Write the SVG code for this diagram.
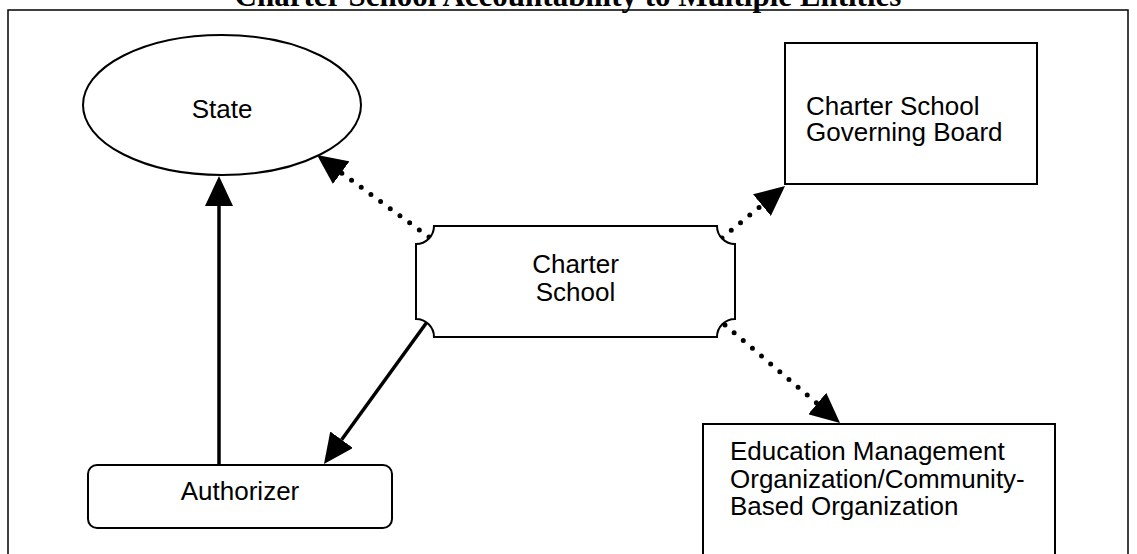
<svg xmlns="http://www.w3.org/2000/svg" width="1137" height="554" viewBox="0 0 1137 554">
  <style>
    .lbl { font-family: "Liberation Sans", Arial, sans-serif; font-size: 26px; fill: #000; }
    .title { font-family: "Liberation Serif", "Times New Roman", serif; font-size: 31px; font-weight: bold; fill: #000; }
    .shape { fill: #fff; stroke: #000; stroke-width: 2; }
    .dotted { fill: none; stroke: #000; stroke-width: 5; stroke-linecap: round; stroke-dasharray: 0 12; }
    .solid { fill: none; stroke: #000; stroke-width: 3.5; }
  </style>
  <defs>
    <marker id="ah" markerUnits="userSpaceOnUse" markerWidth="30" markerHeight="28" viewBox="0 0 30 28" refX="0" refY="14" orient="auto">
      <path d="M0,0 L30,14 L0,28 Z" fill="#000"/>
    </marker>
  </defs>
  <rect width="1137" height="554" fill="#fff"/>
  <text class="title" x="568" y="5.5" text-anchor="middle">Charter School Accountability to Multiple Entities</text>
  <g id="frame">
    <rect x="8" y="10" width="1120" height="560" fill="none" stroke="#000" stroke-width="1.5"/>
  </g>
  <g id="connectors">
    <line class="dotted" x1="429" y1="237" x2="341.2" y2="172.7" marker-end="url(#ah)"/>
    <line class="dotted" x1="722" y1="238" x2="761.9" y2="205.1" marker-end="url(#ah)"/>
    <line class="dotted" x1="725" y1="325" x2="817.2" y2="403.5" marker-end="url(#ah)"/>
    <line class="solid" x1="427" y1="322" x2="341.6" y2="439.7" marker-end="url(#ah)"/>
    <line class="solid" x1="219" y1="465" x2="219" y2="206" marker-end="url(#ah)"/>
  </g>
  <g id="state">
    <ellipse class="shape" cx="222" cy="105" rx="139" ry="70"/>
    <text class="lbl" x="222" y="118" text-anchor="middle">State</text>
  </g>
  <g id="charter-school">
    <path class="shape" d="M434,226 L717,226 A18,18 0 0 0 735,244 L735,319 A18,18 0 0 0 717,337 L434,337 A18,18 0 0 0 416,319 L416,244 A18,18 0 0 0 434,226 Z"/>
    <text class="lbl" x="575.5" y="273" text-anchor="middle">Charter</text>
    <text class="lbl" x="575.5" y="301" text-anchor="middle">School</text>
  </g>
  <g id="governing-board">
    <rect class="shape" x="785" y="43" width="252" height="141"/>
    <text class="lbl" x="806" y="115">Charter School</text>
    <text class="lbl" x="806" y="141">Governing Board</text>
  </g>
  <g id="authorizer">
    <rect class="shape" x="88" y="465" width="304" height="63" rx="9" ry="9"/>
    <text class="lbl" x="240" y="500" text-anchor="middle">Authorizer</text>
  </g>
  <g id="emo">
    <rect class="shape" x="703" y="424" width="352" height="160"/>
    <text class="lbl" x="730" y="460">Education Management</text>
    <text class="lbl" x="730" y="488">Organization/Community-</text>
    <text class="lbl" x="730" y="515">Based Organization</text>
  </g>
</svg>
